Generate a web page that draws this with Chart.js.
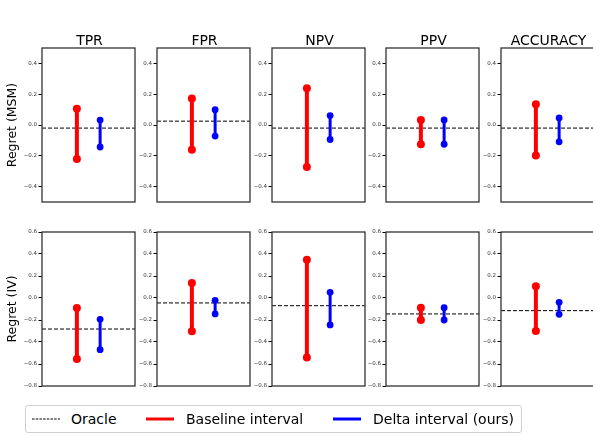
<!DOCTYPE html>
<html><head><meta charset="utf-8">
<script src="https://cdn.jsdelivr.net/npm/chart.js@4"></script>
<style>
html,body{margin:0;padding:0;width:593px;height:437px;overflow:hidden;background:#fff;font-family:"DejaVu Sans",sans-serif;}
canvas{position:absolute;}
.ptitle{position:absolute;font-size:14px;line-height:14px;text-align:center;color:#000;white-space:nowrap;}
#legend{position:absolute;left:25px;top:405px;width:495px;height:26px;border:1px solid #d0d0d0;border-radius:3px;}
.ltxt{position:absolute;top:0;font-size:14px;line-height:26px;color:#000;white-space:nowrap;}
.lsw{position:absolute;}
</style></head><body>
<script>
// ---- data ----
const categories = ['TPR', 'FPR', 'NPV', 'PPV', 'ACCURACY'];
const rowLabels = ['Regret (MSM)', 'Regret (IV)'];
const msmTicks = [-0.4, -0.2, 0.0, 0.2, 0.4];
const ivTicks = [-0.8, -0.6, -0.4, -0.2, 0.0, 0.2, 0.4, 0.6];

const msmOracle    = [-0.02, 0.025, -0.02, -0.02, -0.02];
const msmBaseLow   = [-0.22, -0.16, -0.272, -0.125, -0.198];
const msmBaseHigh  = [0.106, 0.172, 0.238, 0.033, 0.135];
const msmDeltaLow  = [-0.143, -0.072, -0.094, -0.125, -0.109];
const msmDeltaHigh = [0.032, 0.099, 0.061, 0.033, 0.046];

const ivOracle    = [-0.282, -0.045, -0.07, -0.145, -0.115];
const ivBaseLow   = [-0.555, -0.303, -0.54, -0.2, -0.3];
const ivBaseHigh  = [-0.09, 0.136, 0.348, -0.088, 0.106];
const ivDeltaLow  = [-0.47, -0.145, -0.245, -0.2, -0.148];
const ivDeltaHigh = [-0.194, -0.021, 0.052, -0.088, -0.039];

const xPositions = [0, 1];     // baseline at 0, delta at 1
const xRange = [-1.5, 2.5];

// ---- layout ----
const panelLefts = [42, 157, 272, 386, 501];
const panelW = 95, panelH = 154;
const rowTops = [48, 232];
const rowRanges = [[-0.5, 0.5], [-0.8, 0.6]];
const rowTicks = [msmTicks, ivTicks];
const rowData = [
  {o: msmOracle, bl: msmBaseLow, bh: msmBaseHigh, dl: msmDeltaLow, dh: msmDeltaHigh},
  {o: ivOracle, bl: ivBaseLow, bh: ivBaseHigh, dl: ivDeltaLow, dh: ivDeltaHigh}
];

const framePlugin = {
  id: 'frame',
  afterDraw(chart) {
    const a = chart.chartArea, ctx = chart.ctx;
    ctx.save();
    ctx.strokeStyle = '#333';
    ctx.lineWidth = 1.3;
    ctx.strokeRect(a.left, a.top, a.right - a.left, a.bottom - a.top);
    ctx.restore();
  }
};

function fmt(v) {
  const s = Math.abs(v).toFixed(1);
  return (v < -1e-9 ? '\u2212' : '') + s;
}

for (let r = 0; r < 2; r++) {
  for (let c = 0; c < 5; c++) {
    const pl = panelLefts[c];
    const canvasLeft = c === 0 ? 0 : pl - 36;
    const axisW = pl - canvasLeft;
    const padTop = 6, padBottom = 6, padRight = 2;
    const cv = document.createElement('canvas');
    const W = axisW + panelW + padRight, H = panelH + padTop + padBottom;
    cv.width = W; cv.height = H;
    cv.style.left = canvasLeft + 'px';
    cv.style.top = (rowTops[r] - padTop) + 'px';
    cv.style.width = W + 'px'; cv.style.height = H + 'px';
    document.body.appendChild(cv);
    const d = rowData[r];
    const ticks = rowTicks[r];
    new Chart(cv, {
      type: 'scatter',
      data: {
        datasets: [
          {
            label: 'Oracle',
            data: [{x: xRange[0], y: d.o[c]}, {x: xRange[1], y: d.o[c]}],
            showLine: true, borderColor: '#000', borderWidth: 1, borderDash: [4, 2],
            pointRadius: 0, order: 3
          },
          {
            label: 'Baseline interval',
            data: [{x: xPositions[0], y: d.bl[c]}, {x: xPositions[0], y: d.bh[c]}],
            showLine: true, borderColor: '#ff0000', backgroundColor: '#ff0000', borderWidth: 4,
            pointRadius: 4, pointBorderWidth: 0, order: 2
          },
          {
            label: 'Delta interval (ours)',
            data: [{x: xPositions[1], y: d.dl[c]}, {x: xPositions[1], y: d.dh[c]}],
            showLine: true, borderColor: '#0000ff', backgroundColor: '#0000ff', borderWidth: 3,
            pointRadius: 3.4, pointBorderWidth: 0, order: 1
          }
        ]
      },
      options: {
        responsive: false, animation: false, devicePixelRatio: 1,
        layout: {padding: {top: padTop, bottom: padBottom, right: padRight, left: 0}},
        plugins: {legend: {display: false}, tooltip: {enabled: false}},
        scales: {
          x: {type: 'linear', min: xRange[0], max: xRange[1], display: false},
          y: {
            type: 'linear', min: rowRanges[r][0], max: rowRanges[r][1],
            afterBuildTicks: ax => { ax.ticks = ticks.map(v => ({value: v})); },
            afterFit: ax => { ax.width = axisW; },
            border: {display: false},
            grid: {display: true, drawOnChartArea: false, drawTicks: true, tickLength: 3.5, color: '#000', lineWidth: 1},
            ticks: {
              padding: 1.5, color: '#333',
              font: {family: 'DejaVu Sans', size: 5.5},
              callback: v => fmt(v)
            },
            title: {
              display: c === 0, text: rowLabels[r], color: '#000',
              font: {family: 'DejaVu Sans', size: 12.5},
              padding: {top: 5, bottom: 0}
            }
          }
        }
      },
      plugins: [framePlugin]
    });
    if (r === 0) {
      const t = document.createElement('div');
      t.className = 'ptitle';
      t.textContent = categories[c];
      t.style.left = (pl - 20) + 'px';
      t.style.width = (panelW + 40) + 'px';
      t.style.top = '33px';
      document.body.appendChild(t);
    }
  }
}

// ---- legend ----
const legendItems = [
  {label: 'Oracle', color: '#000', dash: true, x0: 6, textX: 45},
  {label: 'Baseline interval', color: '#ff0000', dash: false, x0: 120, textX: 160},
  {label: 'Delta interval (ours)', color: '#0000ff', dash: false, x0: 307, textX: 347}
];
const lg = document.createElement('div');
lg.id = 'legend';
document.body.appendChild(lg);
legendItems.forEach(it => {
  const svgNS = 'http://www.w3.org/2000/svg';
  const s = document.createElementNS(svgNS, 'svg');
  s.setAttribute('width', '30'); s.setAttribute('height', '8');
  s.setAttribute('class', 'lsw');
  s.style.left = it.x0 + 'px'; s.style.top = '9px';
  const ln = document.createElementNS(svgNS, 'line');
  ln.setAttribute('x1', '0'); ln.setAttribute('x2', '28');
  ln.setAttribute('y1', '4'); ln.setAttribute('y2', '4');
  ln.setAttribute('stroke', it.color);
  ln.setAttribute('stroke-width', it.dash ? '1' : '3');
  if (it.dash) ln.setAttribute('stroke-dasharray', '2.5,1.2');
  s.appendChild(ln);
  lg.appendChild(s);
  const t = document.createElement('div');
  t.className = 'ltxt';
  t.style.left = it.textX + 'px';
  t.textContent = it.label;
  lg.appendChild(t);
});
</script>
</body></html>
